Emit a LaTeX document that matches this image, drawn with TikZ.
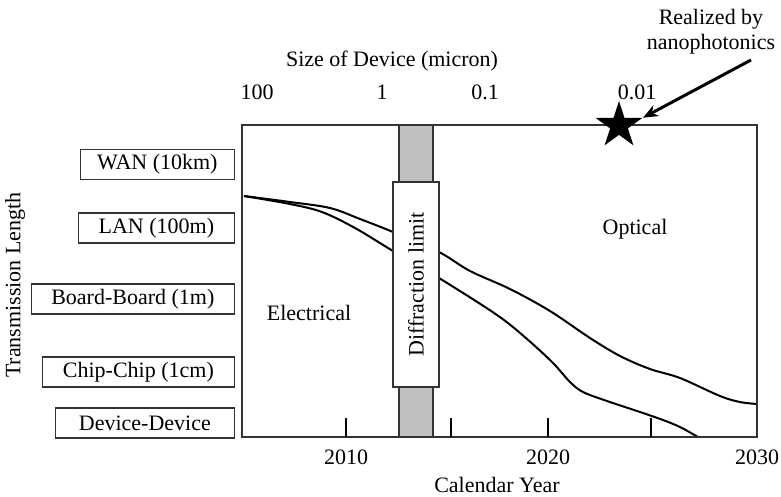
\documentclass[tikz,border=0pt]{standalone}
\usepackage{fontspec}
\setmainfont{Liberation Serif}
\usetikzlibrary{shapes.geometric,arrows.meta}
\definecolor{framec}{HTML}{333333}
\definecolor{barc}{HTML}{C0C0C0}
\begin{document}
\begin{tikzpicture}[x=1pt,y=-1pt,
  every node/.style={font=\fontsize{22}{25}\selectfont, inner sep=0pt},
  lenbox/.style={draw=framec, line width=1.3pt, fill=white, minimum height=30pt, anchor=east},
  curve/.style={line width=2pt, line join=round},
  tick/.style={line width=2pt}]
\useasboundingbox (0,0) rectangle (781,496);
% curves
\draw[curve] plot[smooth, tension=0.55] coordinates {(244,196) (290,202) (330,208) (360,219) (393,232) (439,252) (470,271) (510,289) (550,311) (590,338) (620,356) (650,369) (680,378) (720,396) (740,402) (757,404)};
\draw[curve] plot[smooth, tension=0.55] coordinates {(244,196) (290,204) (322,212) (355,228) (393,251) (439,278) (497,315) (527,339) (553,363) (570,382) (583,392) (607,401) (640,412) (663,420) (680,427) (698,437)};
% frame
\draw[draw=framec, line width=1.3pt] (242,125) rectangle (757,437);
% ticks
\node (t2010) at (346,437) {};
\node (t2013) at (451,437) {};
\node (t2020) at (548,437) {};
\node (t2025) at (651,437) {};
\foreach \n in {t2010,t2013,t2020,t2025} \draw[tick] (\n.center) -- ++(0,-19);
% diffraction bar
\node[draw=framec, line width=1.3pt, fill=barc, minimum width=34pt, minimum height=312pt] (bar) at (416,281) {};
\node[draw=framec, line width=1.3pt, fill=white, minimum width=46pt, minimum height=205pt] (diff) at (416,284.5) {};
\node[rotate=90] (difftxt) at (416,284.5) {Diffraction limit};
% star
\node[star, star points=5, star point ratio=2.618, minimum size=49pt, fill=black, inner sep=0pt] (star) at (619,125.5) {};
\coordinate (arrsrc) at (751,60);
\draw[line width=3pt, -{Stealth[length=15pt,width=12pt]}] (arrsrc) -- (star.outer point 5);
\node[align=center] (realized) at (711,32) {Realized by\\nanophotonics};
% top axis
\node (sizelbl) at (392,61) {Size of Device (micron)};
\node (s100) at (257,92) {100};
\node (s1) at (382,92) {1};
\node (s01) at (485,92) {0.1};
\node (s001) at (637,92) {0.01};
% bottom axis
\node (y2010) at (346,457) {2010};
\node (y2020) at (548,457) {2020};
\node (y2030) at (757,457) {2030};
\node (calyear) at (497,485) {Calendar Year};
% region labels
\node (elec) at (309,313) {Electrical};
\node (opt) at (635,229) {Optical};
% left
\node[rotate=90] (translen) at (15,285) {Transmission Length};
\node[lenbox, minimum width=154pt] (wan) at (235,164.5) {WAN (10km)};
\node[lenbox, minimum width=156pt] (lan) at (235,228) {LAN (100m)};
\node[lenbox, minimum width=203pt] (board) at (235,299) {Board-Board (1m)};
\node[lenbox, minimum width=192pt] (chip) at (235,372) {Chip-Chip (1cm)};
\node[lenbox, minimum width=179pt] (dev) at (235,423) {Device-Device};
\end{tikzpicture}
\end{document}
